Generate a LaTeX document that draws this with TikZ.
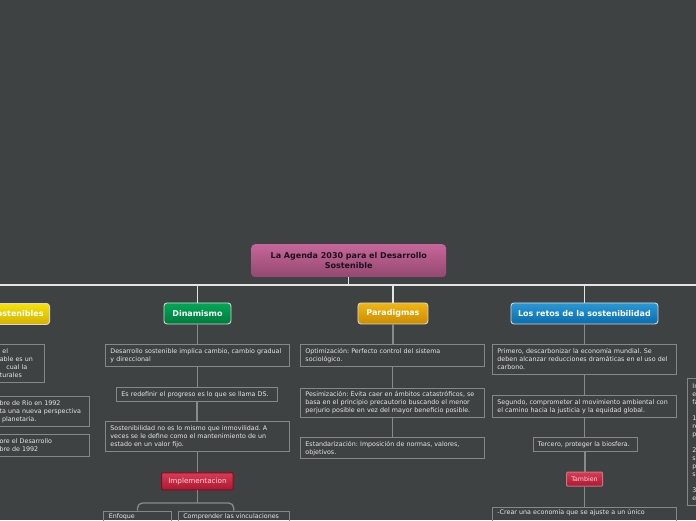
\documentclass[tikz,border=0pt]{standalone}
\usepackage{fontspec}
\setmainfont{DejaVu Sans}
\frenchspacing
\definecolor{bg}{RGB}{62,66,67}
\definecolor{boxline}{RGB}{132,136,137}
\definecolor{boxtext}{RGB}{232,232,232}
\definecolor{connc}{RGB}{135,139,140}
\definecolor{topc}{RGB}{228,228,228}
\definecolor{mainline}{RGB}{215,215,215}
\definecolor{roottop}{RGB}{198,102,154}
\definecolor{rootbot}{RGB}{148,72,112}
\definecolor{roottext}{RGB}{28,18,26}
\definecolor{yeltop}{RGB}{245,226,10}
\definecolor{yelbot}{RGB}{212,178,0}
\definecolor{grntop}{RGB}{0,168,86}
\definecolor{grnbot}{RGB}{0,122,60}
\definecolor{goltop}{RGB}{242,182,18}
\definecolor{golbot}{RGB}{204,140,0}
\definecolor{blutop}{RGB}{42,152,214}
\definecolor{blubot}{RGB}{10,108,172}
\definecolor{redtop}{RGB}{218,58,84}
\definecolor{redbot}{RGB}{172,24,48}
\definecolor{redline}{RGB}{128,14,34}
\definecolor{redtext}{RGB}{245,215,220}
\begin{document}
\begin{tikzpicture}[x=1pt,y=-1pt,
  box/.style={draw=boxline, line width=0.9pt, text=boxtext,
    font=\fontsize{6.35}{8}\selectfont\frenchspacing, align=left,
    inner xsep=5pt, inner ysep=2pt, anchor=north west},
  mainnode/.style={draw=mainline, line width=0.9pt, rounded corners=3pt,
    text=white, font=\fontsize{8}{9}\selectfont\bfseries,
    inner xsep=4pt, inner ysep=0pt, minimum height=21pt, anchor=north west},
  rednode/.style={draw=redline, line width=1pt, rounded corners=1pt,
    top color=redtop, bottom color=redbot, text=redtext,
    inner xsep=2pt, inner ysep=0pt, anchor=north west},
  conn/.style={draw=connc, line width=1.3pt},
  topline/.style={draw=topc, line width=1.3pt}]
\useasboundingbox (0,0) rectangle (696,520);
\fill[bg] (0,0) rectangle (696,520);
\clip (0,0) rectangle (696,520);

% root
\node[draw=none, rounded corners=4pt, top color=roottop, bottom color=rootbot,
  text=roottext, font=\fontsize{8}{10}\selectfont\bfseries, align=center,
  minimum width=195pt, minimum height=33pt, anchor=north west, inner sep=0pt]
  (root) at (251,244) {La Agenda 2030 para el Desarrollo\\Sostenible};

\coordinate (hl) at (0,285);
\coordinate (hr) at (696,285);

% main nodes
\node[mainnode, top color=yeltop, bottom color=yelbot, anchor=north east,
  text width=98pt, align=right, inner xsep=6pt] (ods) at (50,303) {ostenibles};
\node[mainnode, top color=grntop, bottom color=grnbot, minimum width=67pt] (din) at (163.5,302.5) {Dinamismo};
\node[mainnode, top color=goltop, bottom color=golbot, minimum width=70pt] (par) at (357.5,302.5) {Paradigmas};
\node[mainnode, top color=blutop, bottom color=blubot, minimum width=147pt] (ret) at (510.5,302.5) {Los retos de la sostenibilidad};

% top connectors
\draw[topline] (hl) -- (hr);
\draw[topline] (root.south) -- (root.south |- hl);
\draw[topline] (ods.north) -- (ods.north |- hl);
\draw[topline] (din.north) -- (din.north |- hl);
\draw[topline] (par.north) -- (par.north |- hl);
\draw[topline] (ret.north) -- (ret.north |- hl);

% left column (cut off)
\node[box, anchor=north east, text width=40pt, minimum height=38pt] (la) at (45.3,344)
  {\hspace*{2.5pt}el\\able es un\\\hspace*{6.5pt}cual la\\turales};
\node[box, anchor=north east, text width=85pt, minimum height=30pt] (lb) at (90,396)
  {bre de Río en 1992\\ta una nueva perspectiva\\\hspace*{2.5pt}planetaria.};
\node[box, anchor=north east, text width=85pt, minimum height=22pt] (lc) at (90,433.5)
  {ore el Desarrollo\\bre de 1992};
\draw[conn] (ods.south) -- (ods.south |- la.north);

% Dinamismo column
\node[box, text width=174pt, minimum height=22pt] (d1) at (105,344)
  {Desarrollo sostenible implica cambio, cambio gradual\\y direccional};
\node[box, text width=151pt, minimum height=14pt] (d2) at (116,387)
  {Es redefinir el progreso es lo que se llama DS.};
\node[box, text width=174pt, minimum height=30pt] (d3) at (105,421)
  {Sostenibilidad no es lo mismo que inmovilidad. A\\veces se le define como el mantenimiento de un\\estado en un valor fijo.};
\node[rednode, font=\fontsize{7.2}{8}\selectfont, minimum width=71.5pt, minimum height=17pt] (impl) at (161.2,472.3) {Implementacion};
\node[box, text width=57.5pt, inner ysep=2.5pt] (e1) at (103.3,510.5)
  {Enfoque\\\phantom{x}\\\phantom{x}};
\node[box, text width=101pt, inner ysep=2.5pt] (e2) at (177.8,510.5)
  {Comprender las vinculaciones\\\phantom{x}\\\phantom{x}};

\draw[conn] (din.south) -- (din.south |- d1.north);
\draw[conn] (d1.south) -- (d1.south |- d2.north);
\draw[conn] (d2.south) -- (d2.south |- d3.north);
\draw[conn] (d3.south) -- (d3.south |- impl.north);
\coordinate (jn) at (197,503);
\draw[conn] (impl.south) -- (impl.south |- jn);
\draw[conn, rounded corners=5pt] (e1.north) -- (e1.north |- jn) -- (e2.north |- jn) -- (e2.north);

% Paradigmas column
\node[box, text width=174pt, minimum height=22pt] (p1) at (300,344)
  {Optimización: Perfecto control del sistema\\sociológico.};
\node[box, text width=174pt, minimum height=29pt] (p2) at (300,387.7)
  {Pesimización: Evita caer en ámbitos catastróficos, se\\basa en el principio precautorio buscando el menor\\perjurio posible en vez del mayor beneficio posible.};
\node[box, text width=174pt, minimum height=21pt] (p3) at (300,437.3)
  {Estandarización: Imposición de normas, valores,\\objetivos.};
\draw[conn] (par.south) -- (par.south |- p1.north);
\draw[conn] (p1.south) -- (p1.south |- p2.north);
\draw[conn] (p2.south) -- (p2.south |- p3.north);

% Retos column
\node[box, text width=174pt, minimum height=30pt] (r1) at (492,344)
  {Primero, descarbonizar la economía mundial. Se\\deben alcanzar reducciones dramáticas en el uso del\\carbono.};
\node[box, text width=174pt, minimum height=22pt] (r2) at (492,395.3)
  {Segundo, comprometer al movimiento ambiental con\\el camino hacia la justicia y la equidad global.};
\node[box, text width=94pt, minimum height=14pt] (r3) at (532.5,437.3)
  {Tercero, proteger la biosfera.};
\node[rednode, draw={rgb,255:red,190;green,120;blue,132}, font=\fontsize{6.3}{8}\selectfont,
  minimum width=36pt, minimum height=14pt] (tam) at (566,471.7) {Tambien};
\node[box, text width=174pt, inner ysep=2.5pt] (r4) at (492,506.5)
  {-Crear una economía que se ajuste a un único\\\phantom{x}\\\phantom{x}};
\draw[conn] (ret.south) -- (ret.south |- r1.north);
\draw[conn] (r1.south) -- (r1.south |- r2.north);
\draw[conn] (r2.south) -- (r2.south |- r3.north);
\draw[conn] (r3.south) -- (r3.south |- tam.north);
\draw[conn] (tam.south) -- (tam.south |- r4.north);

% far right (cut off)
\node[box, text width=50pt, minimum height=127pt, inner ysep=3pt] (fr) at (687,378.3)
  {In\\e\\fa\\[8pt]1\\re\\p\\[8pt]2\\s\\p\\s\\[8pt]3\\e};
\end{tikzpicture}
\end{document}
